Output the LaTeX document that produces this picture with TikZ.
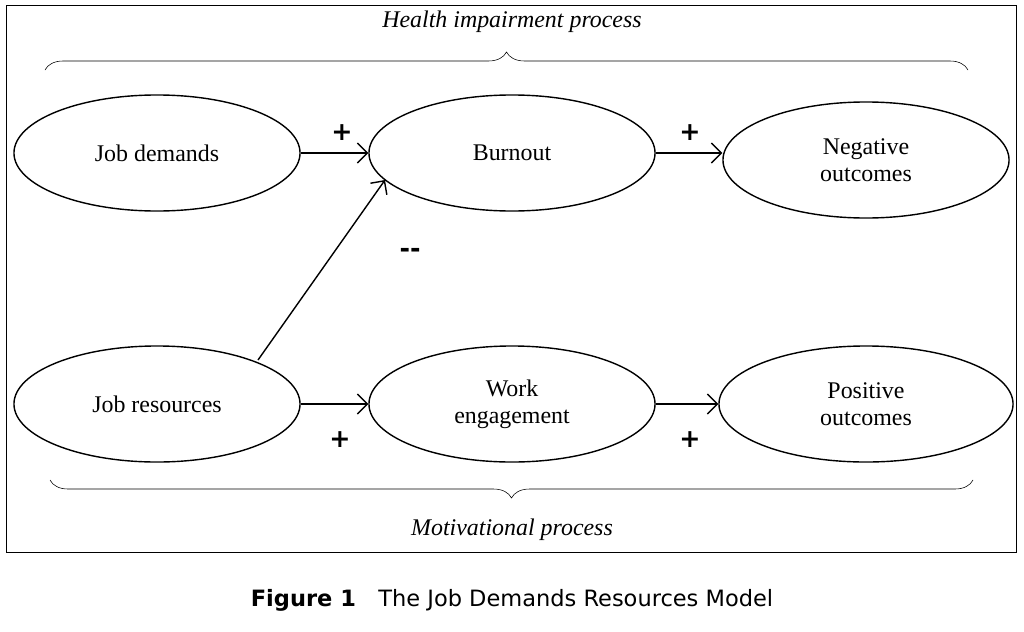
\documentclass[tikz,border=0pt]{standalone}
\usepackage{fontspec}
\setmainfont{Liberation Serif}
\newfontfamily\capfont{DejaVu Sans}
\usetikzlibrary{shapes.geometric,decorations.pathreplacing,arrows.meta}
\begin{document}
\begin{tikzpicture}[x=0.025cm,y=-0.025cm,
        every node/.style = {align=center, font=\fontsize{17}{19}\selectfont},
        state/.style = {shape=ellipse, draw, line width=1pt, minimum width=7.15cm, minimum height=2.9cm},
        link/.style = {-{Straight Barb[length=2.5mm]}, line width=1pt},
        sign/.style = {font=\capfont\bfseries\fontsize{18}{18}\selectfont},
        brc/.style = {decorate, decoration={brace, amplitude=0.45cm}, thin}]
    \useasboundingbox (0,0) rectangle (1024,631);
    \draw (6,5) rectangle (1016,552);
    \node[state] (dem) at (157,153) {Job demands};
    \node[state] (burn) at (512,153) {Burnout};
    \node[state] (neg) at (866,160) {Negative\\outcomes};
    \node[state] (res) at (157,404) {Job resources};
    \node[state] (eng) at (512,404) {Work\\engagement};
    \node[state, minimum width=7.35cm] (pos) at (866,404) {Positive\\outcomes};
    \coordinate (rs) at (258,360);
    \coordinate (bs) at (385,180);
    \draw[link] (dem) -- (burn);
    \draw[link] (burn) -- (burn -| neg.west);
    \draw[link] (rs) -- (bs);
    \draw[link] (res) -- (eng);
    \draw[link] (eng) -- (pos);
    \node[sign] (p1) at (342,133) {+};
    \node[sign] (p2) at (690,133) {+};
    \node[sign] (m1) at (410,253) {--};
    \node[sign] (p3) at (340,440) {+};
    \node[sign] (p4) at (690,440) {+};
    \coordinate (ta) at (45,70);
    \coordinate (tb) at (968,70);
    \coordinate (ba) at (973,480);
    \coordinate (bb) at (50,480);
    \draw[brc] (ta) -- (tb);
    \draw[brc] (ba) -- (bb);
    \node (hip) at (512,22) {\itshape Health impairment process};
    \node (mot) at (512,530) {\itshape Motivational process};
    \node (cap) at (512,600) {\capfont\fontsize{16}{18}\selectfont\bfseries Figure 1\quad\mdseries The Job Demands Resources Model};
\end{tikzpicture}
\end{document}
